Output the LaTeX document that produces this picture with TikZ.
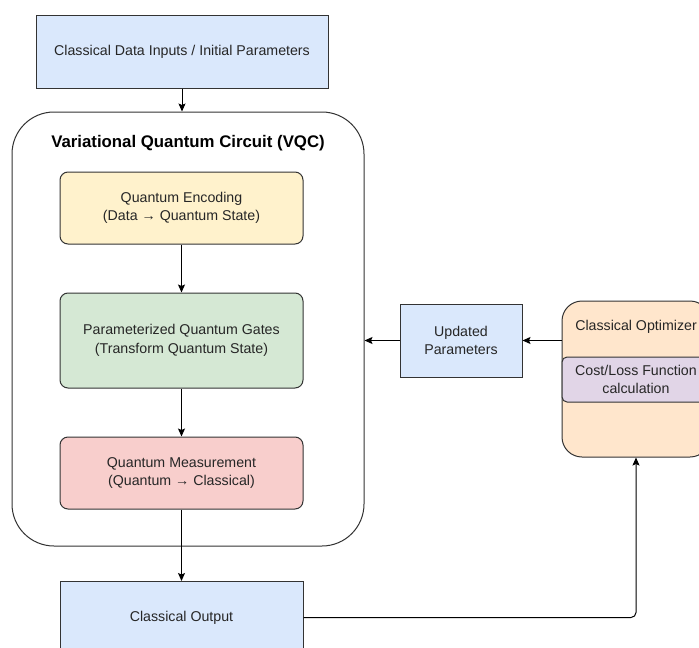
\documentclass[tikz,border=0pt]{standalone}
\usepackage{fontspec}
\setmainfont{Liberation Sans}
\usetikzlibrary{arrows.meta}
\definecolor{cblue}{HTML}{DAE8FC}
\definecolor{cyellow}{HTML}{FFF2CC}
\definecolor{cgreen}{HTML}{D5E8D4}
\definecolor{cred}{HTML}{F8CECC}
\definecolor{corange}{HTML}{FFE6CC}
\definecolor{cpurple}{HTML}{E1D5E7}
\definecolor{edge}{HTML}{333333}
\tikzset{
  x=1pt, y=-1pt,
  txt/.style={font=\fontsize{14.2}{18.5}\selectfont, text=black!85},
  box/.style={draw=edge, line width=1pt, align=center, inner sep=2pt, txt},
  rbox/.style={box, rounded corners=8pt},
  conn/.style={draw=black, line width=1pt, -{Stealth[length=8pt,width=7pt,inset=1.5pt]}},
}
\begin{document}
\begin{tikzpicture}
\useasboundingbox (0,0) rectangle (699,648);
\clip (0,0) rectangle (699,648);
\fill[white] (0,0) rectangle (699,648);

% top input
\node[box, fill=cblue, minimum width=292pt, minimum height=73pt] (inp) at (182,51.5) {Classical Data Inputs / Initial Parameters};

% VQC container
\node[draw=edge, line width=1pt, rounded corners=42pt, minimum width=352pt, minimum height=434pt, inner sep=0pt] (vqc) at (188,329) {};
\node[font=\fontsize{16.8}{20}\selectfont\bfseries] (title) at (188,143) {Variational Quantum Circuit (VQC)};

\node[rbox, fill=cyellow, minimum width=243pt, minimum height=72pt] (enc) at (181.5,208) {Quantum Encoding\\(Data → Quantum State)};
\node[rbox, fill=cgreen, minimum width=243pt, minimum height=95pt] (gates) at (181.5,340.5) {Parameterized Quantum Gates\\(Transform Quantum State)};
\node[rbox, fill=cred, minimum width=243pt, minimum height=72pt] (meas) at (181.5,473) {Quantum Measurement\\(Quantum → Classical)};

% output
\node[box, fill=cblue, minimum width=243pt, minimum height=72pt] (out) at (181.5,617.5) {Classical Output};

% updated parameters
\node[box, fill=cblue, minimum width=122pt, minimum height=73pt] (upd) at (461,340.5) {Updated\\Parameters};

% optimizer
\node[draw=edge, line width=1pt, fill=corange, rounded corners=20pt, minimum width=148pt, minimum height=156pt, inner sep=0pt] (opt) at (636,379) {};
\node[txt] (opttitle) at (636,327) {Classical Optimizer};
\node[box, fill=cpurple, rounded corners=5pt, minimum width=148pt, minimum height=45pt] (cost) at (636,379.5) {Cost/Loss Function\\calculation};

% connectors
\draw[conn] (inp.south) -- (inp.south |- vqc.north);
\draw[conn] (enc.south) -- (gates.north);
\draw[conn] (gates.south) -- (meas.north);
\draw[conn] (meas.south) -- (out.north);
\draw[conn] (opt.west |- upd.east) -- (upd.east);
\draw[conn] (upd.west) -- (vqc.east |- upd.west);
\draw[conn, rounded corners=5pt] (out.east) -| (opt.south);
\end{tikzpicture}
\end{document}
